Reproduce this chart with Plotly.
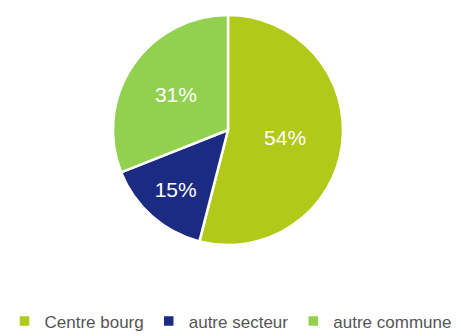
import plotly.graph_objects as go

labels = ["Centre bourg", "autre secteur", "autre commune"]
values = [54, 15, 31]
colors = ["#B1C918", "#1B2A83", "#92D050"]

W, H = 461, 336
FONT = "Liberation Sans Narrow, Arial Narrow, sans-serif"

fig = go.Figure(go.Pie(
    labels=labels,
    values=values,
    sort=False,
    direction="clockwise",
    rotation=0,
    marker=dict(colors=colors, line=dict(color="white", width=2.5)),
    texttemplate="%{value}%",
    textposition="inside",
    insidetextorientation="horizontal",
    textfont=dict(color="white", size=21, family=FONT),
    domain=dict(x=[113 / W, 343 / W], y=[91 / H, 321 / H]),
    hoverinfo="label+percent",
))

fig.update_layout(
    width=W, height=H,
    margin=dict(l=0, r=0, t=0, b=0, autoexpand=False),
    paper_bgcolor="white",
    plot_bgcolor="white",
    showlegend=True,
    legend=dict(
        orientation="h",
        x=0.5, xanchor="center",
        y=-0.01, yanchor="bottom",
        font=dict(family=FONT, size=17, color="#555555"),
        itemwidth=30,
        tracegroupgap=0,
    ),
)

fig.write_html("out.html")
